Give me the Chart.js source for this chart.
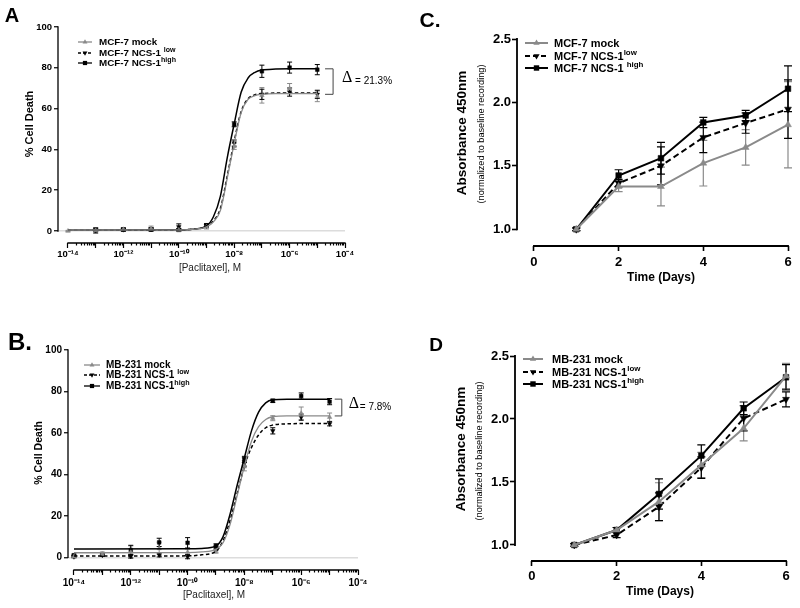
<!DOCTYPE html>
<html>
<head>
<meta charset="utf-8">
<script src="https://cdn.jsdelivr.net/npm/chart.js@4.4.1/dist/chart.umd.min.js"></script>
<style>
  body { margin: 0; background: #fff; }
  #fig { position: relative; width: 800px; height: 608px; font-family: "Liberation Sans", Arial, sans-serif; color: #000; overflow: hidden; }
  #fig canvas { position: absolute; }
  .txt { position: absolute; white-space: nowrap; line-height: 1; transform: translate(-50%, -50%); }
  .rot { transform: translate(-50%, -50%) rotate(-90deg); }
  .b { font-weight: bold; }
  .leg { position: absolute; white-space: nowrap; line-height: 1; font-weight: bold; transform: translateY(-50%); }
  .leg sup { font-size: 0.72em; vertical-align: 0.55em; line-height: 0; }
  svg.sample { position: absolute; overflow: visible; }
</style>
</head>
<body>
<div id="fig">
  <canvas id="cA" width="400" height="300" style="left:0;top:0"></canvas>
  <canvas id="cB" width="400" height="308" style="left:0;top:300px"></canvas>
  <canvas id="cC" width="400" height="300" style="left:400px;top:0"></canvas>
  <canvas id="cD" width="400" height="308" style="left:400px;top:300px"></canvas>

  <div class="txt b" style="left:12px;top:15px;font-size:20px">A</div>
  <div class="txt b" style="left:20px;top:342px;font-size:24px">B.</div>
  <div class="txt b" style="left:430px;top:19px;font-size:21px">C.</div>
  <div class="txt b" style="left:436px;top:344px;font-size:19px">D</div>

  <div class="txt rot b" style="left:29px;top:124px;font-size:11px">% Cell Death</div>
  <div class="txt" style="left:210px;top:268px;font-size:10px;color:#222">[Paclitaxel], M</div>
  <div class="txt rot b" style="left:38px;top:453px;font-size:10.5px">% Cell Death</div>
  <div class="txt" style="left:214px;top:595px;font-size:10px;color:#222">[Paclitaxel], M</div>

  <div class="txt rot b" style="left:462px;top:133px;font-size:13.5px">Absorbance 450nm</div>
  <div class="txt rot" style="left:482px;top:134px;font-size:9.2px">(normalized to baseline recording)</div>
  <div class="txt b" style="left:661px;top:277px;font-size:12px">Time (Days)</div>
  <div class="txt rot b" style="left:461px;top:449px;font-size:13.5px">Absorbance 450nm</div>
  <div class="txt rot" style="left:480px;top:451px;font-size:9.2px">(normalized to baseline recording)</div>
  <div class="txt b" style="left:660px;top:591px;font-size:12px">Time (Days)</div>
</div>

<script>
// ---- data: paclitaxel dose response (x = log10 molar) ----
const doseExp = [-14, -13, -12, -11, -10, -9, -8, -7, -6, -5];
const doseTickExp = [-14, -12, -10, -8, -6, -4];
const doseTickLabels = ['10⁻¹⁴', '10⁻¹²', '10⁻¹⁰', '10⁻⁸', '10⁻⁶', '10⁻⁴'];
const pctTicks = [0, 20, 40, 60, 80, 100];

const aMock    = [0.0, 0.3, 0.8, 1.2, 0.5, 2.0, 41.5, 66.5, 69.8, 66.0];
const aMockErr = [0.3, 0.5, 0.8, 1.2, 0.8, 1.0, 1.5, 3.8, 2.5, 2.6];
const aLow     = [null, 0.5, 0.7, 0.9, 2.0, 2.5, 43.1, 67.0, 68.1, 67.0];
const aLowErr  = [0, 0.5, 0.5, 0.8, 1.5, 0.8, 1.5, 2.5, 2.0, 2.0];
const aHigh    = [null, 0.3, 0.7, 0.7, 0.6, 2.8, 52.3, 78.3, 80.1, 79.1];
const aHighErr = [0, 1.3, 0.8, 0.6, 0.6, 0.8, 1.2, 3.0, 2.7, 2.5];

const bMock    = [0.3, 1.5, 2.5, 4.3, 2.5, 3.0, 43.7, 67.1, 69.5, 67.6];
const bMockErr = [0.5, 0.8, 3.0, 3.0, 1.5, 1.0, 2.0, 1.2, 3.0, 2.0];
const bLow     = [0.3, 1.0, 0.5, 1.2, 0.3, 4.5, 46.0, 61.0, 67.6, 64.4];
const bLowErr  = [0.5, 0.5, 0.8, 1.0, 1.0, 1.0, 2.0, 1.5, 1.5, 1.0];
const bHigh    = [1.0, 1.6, 3.5, 7.2, 7.0, 5.5, 47.2, 75.5, 77.8, 75.1];
const bHighErr = [0.5, 0.8, 2.3, 2.0, 2.5, 1.0, 1.5, 0.8, 1.5, 1.5];

// fitted curves at these log doses
const fitExp   = [-14, -10, -9.5, -9, -8.75, -8.5, -8.25, -8, -7.75, -7.5, -7.25, -7, -6.5, -6, -5];
const aMockFit = [0.5, 0.6, 0.8, 2.0, 4.5, 10, 26, 43, 58, 64.5, 66.4, 67.0, 67.3, 67.3, 67.3];
const aLowFit  = [0.5, 0.6, 0.9, 2.2, 5.0, 11, 27, 44, 58.5, 64.8, 66.8, 67.3, 67.6, 67.6, 67.6];
const aHighFit = [0.5, 0.6, 0.9, 2.5, 7.0, 17, 36, 52.5, 68, 75, 77.8, 78.9, 79.4, 79.5, 79.5];
const bMockFit = [2.2, 2.3, 2.6, 3.8, 7.0, 16, 30, 44, 56, 63, 66.5, 67.8, 68.2, 68.2, 68.2];
const bLowFit  = [0.6, 0.7, 1.2, 3.0, 8.0, 18, 31, 44, 53, 59, 62.5, 63.8, 64.4, 64.5, 64.5];
const bHighFit = [4.0, 4.1, 4.3, 5.5, 10, 21, 35, 48, 61, 70, 74.5, 76, 76.3, 76.3, 76.3];

// ---- data: proliferation (absorbance, normalized) ----
const days = [1, 2, 3, 4, 5, 6];
const dayTicks = [0, 2, 4, 6];
const absTicks = [1.0, 1.5, 2.0, 2.5];

const cMock    = [1.0, 1.337, 1.337, 1.521, 1.645, 1.824];
const cMockErr = [0.01, 0.04, 0.153, 0.18, 0.14, 0.34];
const cLow     = [1.0, 1.363, 1.50, 1.724, 1.837, 1.947];
const cLowErr  = [0.01, 0.03, 0.15, 0.12, 0.08, 0.23];
const cHigh    = [1.0, 1.424, 1.56, 1.842, 1.897, 2.108];
const cHighErr = [0.01, 0.045, 0.125, 0.04, 0.04, 0.18];

const dMock    = [1.0, 1.119, 1.344, 1.635, 1.926, 2.341];
const dMockErr = [0.01, 0.02, 0.15, 0.10, 0.10, 0.10];
const dLow     = [1.0, 1.079, 1.304, 1.614, 2.005, 2.156];
const dLowErr  = [0.01, 0.02, 0.11, 0.085, 0.10, 0.06];
const dHigh    = [1.0, 1.119, 1.405, 1.709, 2.085, 2.331];
const dHighErr = [0.01, 0.02, 0.12, 0.085, 0.05, 0.10];

// legend labels (base text + superscript)
const mcfNames = ['MCF-7 mock', 'MCF-7 NCS-1', 'MCF-7 NCS-1'];
const mbNames  = ['MB-231 mock', 'MB-231 NCS-1', 'MB-231 NCS-1'];
const supTexts = ['', 'low', 'high'];

const GRAY = '#8a8a8a';
const FONT = '"Liberation Sans", Arial, sans-serif';
const KEYS = ['mock', 'low', 'high'];
const STYLE = {
  mock: { color: GRAY, dash: [], point: 'triangle', rot: 0 },
  low:  { color: '#000', dash: [4, 3], point: 'triangle', rot: 180 },
  high: { color: '#000', dash: [], point: 'rect', rot: 0 }
};

Chart.defaults.font.family = FONT;
Chart.defaults.color = '#000';

// --- small plugins: error bars, offset axis lines, delta bracket ---
const errorBars = {
  id: 'errorBars',
  beforeDatasetsDraw(chart, args, opts) {
    const { ctx, scales: { x, y } } = chart;
    chart.data.datasets.forEach(ds => {
      if (!ds.errors) return;
      ctx.save();
      ctx.strokeStyle = ds.pointBorderColor;
      ctx.lineWidth = opts.width || 1;
      ds.data.forEach((p, i) => {
        const e = ds.errors[i];
        if (p.y == null || !e) return;
        const px = x.getPixelForValue(p.x);
        const y1 = y.getPixelForValue(p.y - e), y2 = y.getPixelForValue(p.y + e);
        ctx.beginPath();
        ctx.moveTo(px, y1); ctx.lineTo(px, y2);
        ctx.moveTo(px - opts.cap, y1); ctx.lineTo(px + opts.cap, y1);
        ctx.moveTo(px - opts.cap, y2); ctx.lineTo(px + opts.cap, y2);
        ctx.stroke();
      });
      ctx.restore();
    });
  }
};

const axisLines = {
  id: 'axisLines',
  afterDraw(chart, args, o) {
    const { ctx, chartArea: a, scales: { x, y } } = chart;
    ctx.save();
    ctx.strokeStyle = '#000';
    ctx.lineWidth = o.width;
    ctx.beginPath();
    ctx.moveTo(a.left, y.getPixelForValue(o.y[0]) + o.width / 2);
    ctx.lineTo(a.left, y.getPixelForValue(o.y[1]) - o.width / 2);
    ctx.moveTo(x.getPixelForValue(o.x[0]) - o.width / 2, a.bottom);
    ctx.lineTo(x.getPixelForValue(o.x[1]) + o.width / 2, a.bottom);
    ctx.stroke();
    ctx.restore();
  }
};

const deltaBracket = {
  id: 'deltaBracket',
  afterDraw(chart, args, o) {
    if (!o.text) return;
    const { ctx, scales: { x, y } } = chart;
    const x0 = x.getPixelForValue(o.x0), x1 = x.getPixelForValue(o.x1);
    const yt = y.getPixelForValue(o.top), yb = y.getPixelForValue(o.bottom);
    const mid = (yt + yb) / 2;
    ctx.save();
    ctx.strokeStyle = '#444';
    ctx.lineWidth = 1;
    ctx.beginPath();
    ctx.moveTo(x0, yt); ctx.lineTo(x1, yt); ctx.lineTo(x1, yb); ctx.lineTo(x0, yb);
    ctx.stroke();
    ctx.fillStyle = '#000';
    ctx.textBaseline = 'middle';
    ctx.textAlign = 'left';
    ctx.font = '16px "Liberation Serif", serif';
    ctx.fillText('Δ', x1 + o.dx1, mid - 4);
    ctx.font = '10px ' + FONT;
    ctx.fillText(o.text, x1 + o.dx2, mid);
    ctx.restore();
  }
};

function minorLogTicks() {
  const t = [];
  for (let n = -14; n <= -4; n++) {
    t.push({ value: n, major: true });
    if (n < -4) for (let k = 2; k <= 9; k++) t.push({ value: n + Math.log10(k), major: false });
  }
  return t;
}

function doseChart(id, p) {
  const datasets = [];
  KEYS.forEach(k => datasets.push({
    data: fitExp.map((e, i) => ({ x: e, y: p.fit[k][i] })),
    showLine: true, pointRadius: 0, clip: false,
    borderColor: STYLE[k].color, borderWidth: k === 'mock' ? 1.3 : 1.5,
    borderDash: k === 'low' ? [3.5, 2.5] : [],
    cubicInterpolationMode: 'monotone'
  }));
  KEYS.forEach(k => datasets.push({
    data: doseExp.map((e, i) => ({ x: e, y: p.pts[k][i] })),
    errors: p.err[k], showLine: false, clip: false,
    pointStyle: STYLE[k].point, pointRotation: STYLE[k].rot,
    pointRadius: 2.6,
    pointBackgroundColor: STYLE[k].color, pointBorderColor: STYLE[k].color, pointBorderWidth: 0.5
  }));

  return new Chart(document.getElementById(id), {
    type: 'scatter',
    data: { datasets },
    options: {
      responsive: false, animation: false, devicePixelRatio: 1,
      layout: { padding: { left: 0, top: p.top, right: p.right, bottom: 0 } },
      plugins: {
        legend: { display: false }, tooltip: { enabled: false },
        errorBars: { cap: 2.5, width: 1 },
        axisLines: { width: 1.3, x: [-14, -4], y: [0, 100] },
        deltaBracket: p.delta
      },
      scales: {
        x: {
          type: 'linear', min: p.xMin, max: -4,
          afterBuildTicks: s => { s.ticks = minorLogTicks(); },
          afterFit: s => { s.height = p.xH; },
          border: { display: false },
          grid: {
            drawOnChartArea: false, tickLength: 5, tickColor: '#000', tickWidth: 1.2,
            tickBorderDash: c => (c.tick && c.tick.major) ? [] : [2.5, 20]
          },
          ticks: {
            autoSkip: false, maxRotation: 0, padding: p.xPad,
            font: { size: p.tickSize, weight: 'bold' },
            callback: v => { const i = doseTickExp.indexOf(v); return i < 0 ? '' : doseTickLabels[i]; }
          }
        },
        y: {
          min: p.yMin, max: 100,
          afterBuildTicks: s => { s.ticks = pctTicks.map(v => ({ value: v })); },
          afterFit: s => { s.width = p.yW; },
          border: { display: false },
          grid: {
            color: c => (c.tick && c.tick.value === 0) ? '#dcdcdc' : 'rgba(0,0,0,0)',
            lineWidth: 1.5, tickColor: '#000', tickWidth: 1.2, tickLength: 4
          },
          ticks: { padding: 2, font: { size: p.tickSize, weight: 'bold' } }
        }
      }
    },
    plugins: [errorBars, axisLines, deltaBracket]
  });
}

function timeChart(id, p) {
  const datasets = KEYS.map(k => ({
    data: days.map((d, i) => ({ x: d, y: p.pts[k][i] })),
    errors: p.err[k], showLine: true, clip: false,
    borderColor: STYLE[k].color, borderWidth: 2,
    borderDash: k === 'low' ? [6, 3.5] : [],
    pointStyle: STYLE[k].point, pointRotation: STYLE[k].rot,
    pointRadius: 4,
    pointBackgroundColor: STYLE[k].color, pointBorderColor: STYLE[k].color, pointBorderWidth: 0.5
  }));

  return new Chart(document.getElementById(id), {
    type: 'scatter',
    data: { datasets },
    options: {
      responsive: false, animation: false, devicePixelRatio: 1,
      layout: { padding: { left: 0, top: p.top, right: p.right, bottom: 0 } },
      plugins: {
        legend: { display: false }, tooltip: { enabled: false },
        errorBars: { cap: 4, width: 1.2 },
        axisLines: { width: 1.8, x: [0, 6], y: [1.0, 2.5] }
      },
      scales: {
        x: {
          type: 'linear', min: -0.4, max: 6,
          afterBuildTicks: s => { s.ticks = dayTicks.map(v => ({ value: v })); },
          afterFit: s => { s.height = p.xH; },
          border: { display: false },
          grid: { drawOnChartArea: false, tickLength: 5, tickColor: '#000', tickWidth: 1.6 },
          ticks: { autoSkip: false, maxRotation: 0, padding: p.xPad, font: { size: 13, weight: 'bold' } }
        },
        y: {
          min: p.yMin, max: 2.5,
          afterBuildTicks: s => { s.ticks = absTicks.map(v => ({ value: v })); },
          afterFit: s => { s.width = p.yW; },
          border: { display: false },
          grid: { drawOnChartArea: false, tickLength: 5, tickColor: '#000', tickWidth: 1.6 },
          ticks: { padding: 1, font: { size: 13, weight: 'bold' }, callback: v => v.toFixed(1) }
        }
      }
    },
    plugins: [errorBars, axisLines]
  });
}

doseChart('cA', {
  pts: { mock: aMock, low: aLow, high: aHigh },
  err: { mock: aMockErr, low: aLowErr, high: aHighErr },
  fit: { mock: aMockFit, low: aLowFit, high: aHighFit },
  xMin: -14.361, yMin: -5.88, top: 27, right: 55, yW: 58, xH: 57, xPad: 1, tickSize: 9.5,
  delta: { x0: -4.72, x1: -4.43, top: 79.5, bottom: 67.0, text: '= 21.3%', dx1: 9, dx2: 22 }
});
doseChart('cB', {
  pts: { mock: bMock, low: bLow, high: bHigh },
  err: { mock: bMockErr, low: bLowErr, high: bHighErr },
  fit: { mock: bMockFit, low: bLowFit, high: bHighFit },
  xMin: -14.21, yMin: -6.12, top: 50, right: 42, yW: 68, xH: 38, xPad: 2, tickSize: 10,
  delta: { x0: -4.82, x1: -4.57, top: 76.3, bottom: 68.2, text: '= 7.8%', dx1: 7, dx2: 18 }
});
timeChart('cC', {
  pts: { mock: cMock, low: cLow, high: cHigh },
  err: { mock: cMockErr, low: cLowErr, high: cHighErr },
  yMin: 0.868, top: 39, right: 12, yW: 117, xH: 54, xPad: 4
});
timeChart('cD', {
  pts: { mock: dMock, low: dLow, high: dHigh },
  err: { mock: dMockErr, low: dLowErr, high: dHighErr },
  yMin: 0.873, top: 56, right: 14, yW: 115, xH: 47, xPad: 3
});

// --- HTML legends (need superscripts) ---
function buildLegend(o) {
  const fig = document.getElementById('fig');
  const NS = 'http://www.w3.org/2000/svg';
  o.names.forEach((name, i) => {
    const k = KEYS[i], st = STYLE[k], y = o.rows[i];
    const svg = document.createElementNS(NS, 'svg');
    svg.setAttribute('class', 'sample');
    svg.setAttribute('width', o.x1 - o.x0);
    svg.setAttribute('height', 10);
    svg.style.left = o.x0 + 'px';
    svg.style.top = (y - 5) + 'px';
    const w = o.x1 - o.x0, m = w / 2, r = o.marker;
    const line = document.createElementNS(NS, 'line');
    line.setAttribute('x1', 0); line.setAttribute('x2', w);
    line.setAttribute('y1', 5); line.setAttribute('y2', 5);
    line.setAttribute('stroke', st.color);
    line.setAttribute('stroke-width', o.lw);
    if (k === 'low') line.setAttribute('stroke-dasharray', o.dash);
    svg.appendChild(line);
    const mk = document.createElementNS(NS, k === 'high' ? 'rect' : 'polygon');
    if (k === 'high') {
      mk.setAttribute('x', m - r * 0.75); mk.setAttribute('y', 5 - r * 0.75);
      mk.setAttribute('width', r * 1.5); mk.setAttribute('height', r * 1.5);
    } else if (k === 'mock') {
      mk.setAttribute('points', `${m},${5 - r} ${m + r * 0.87},${5 + r / 2} ${m - r * 0.87},${5 + r / 2}`);
    } else {
      mk.setAttribute('points', `${m},${5 + r} ${m + r * 0.87},${5 - r / 2} ${m - r * 0.87},${5 - r / 2}`);
    }
    mk.setAttribute('fill', st.color);
    svg.appendChild(mk);
    fig.appendChild(svg);

    const span = document.createElement('div');
    span.className = 'leg';
    span.style.left = o.textX + 'px';
    span.style.top = y + 'px';
    span.style.fontSize = o.size + 'px';
    span.textContent = name + (supTexts[i] && o.space[i] ? ' ' : '');
    if (supTexts[i]) {
      const sup = document.createElement('sup');
      sup.textContent = supTexts[i];
      span.appendChild(sup);
    }
    fig.appendChild(span);
  });
}

buildLegend({ names: mcfNames, rows: [42, 52.5, 63], x0: 78, x1: 92, textX: 99, size: 9.8, marker: 2.8, lw: 1.3, dash: '3,2', space: [0, 1, 0] });
buildLegend({ names: mbNames, rows: [364.5, 375.2, 386], x0: 84, x1: 100, textX: 106, size: 10, marker: 2.8, lw: 1.3, dash: '3,2', space: [0, 1, 0] });
buildLegend({ names: mcfNames, rows: [42.7, 55.5, 68.3], x0: 525, x1: 548, textX: 554, size: 11, marker: 3.6, lw: 2, dash: '5,3', space: [0, 0, 1] });
buildLegend({ names: mbNames, rows: [359.3, 371.8, 384.3], x0: 523, x1: 543, textX: 552, size: 11, marker: 3.6, lw: 2, dash: '5,3', space: [0, 0, 0] });
</script>
</body>
</html>
